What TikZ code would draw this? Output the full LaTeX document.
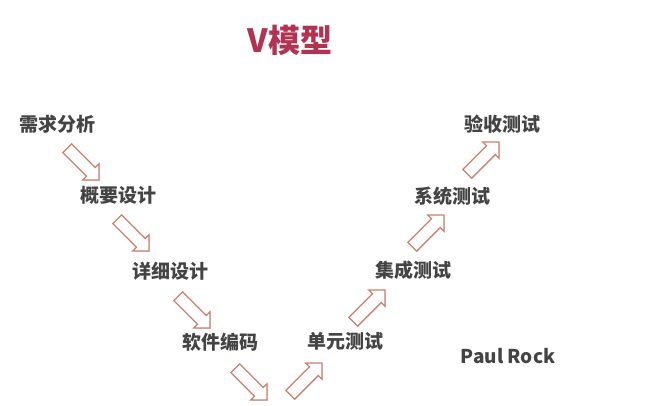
\documentclass[tikz,border=0pt]{standalone}
\usepackage{fontspec}
\newfontfamily\cjk{Noto Sans CJK SC}
\usetikzlibrary{shapes.arrows,shadows}
\definecolor{arrowline}{RGB}{205,128,108}
\definecolor{titlered}{RGB}{178,50,82}
\definecolor{txtgray}{RGB}{68,68,68}
\tikzset{
  stage/.style={font=\cjk\bfseries\fontsize{19pt}{21pt}\selectfont, text=txtgray, inner sep=0pt},
  blockarrow/.style={single arrow, draw=arrowline, line width=1.3pt, fill=white,
    minimum height=45pt, inner sep=5.5pt, single arrow head extend=5.5pt,
    single arrow tip angle=90, drop shadow={opacity=0.25, shadow xshift=1pt, shadow yshift=-1pt}},
}
\begin{document}
\begin{tikzpicture}[x=1pt,y=-1pt]
\useasboundingbox (0,0) rectangle (650,406);
\fill[white] (0,0) rectangle (650,406);
\node[font=\cjk\bfseries\fontsize{32pt}{35pt}\selectfont, text=titlered, inner sep=0pt] (title) at (290,40) {V模型};
\node[stage] (s1) at (57,124) {需求分析};
\node[stage] (s2) at (118,195) {概要设计};
\node[stage] (s3) at (170,271) {详细设计};
\node[stage] (s4) at (220,342) {软件编码};
\node[stage] (s5) at (345,341) {单元测试};
\node[stage] (s6) at (413,270) {集成测试};
\node[stage] (s7) at (452,196) {系统测试};
\node[stage] (s8) at (502,124) {验收测试};
\node[blockarrow, rotate=-45] (a1) at (81,162) {};
\node[blockarrow, rotate=-45] (a2) at (131,233) {};
\node[blockarrow, rotate=-45] (a3) at (192,310) {};
\node[blockarrow, rotate=-45] (a4) at (249,382) {};
\node[blockarrow, rotate=45] (a5) at (304,381) {};
\node[blockarrow, rotate=45] (a6) at (367,308) {};
\node[blockarrow, rotate=45] (a7) at (426,233) {};
\node[blockarrow, rotate=45] (a8) at (481,160) {};
\node[font=\cjk\bfseries\fontsize{19pt}{21pt}\selectfont, text=txtgray, inner sep=0pt] (author) at (508,356) {Paul Rock};
\end{tikzpicture}
\end{document}
